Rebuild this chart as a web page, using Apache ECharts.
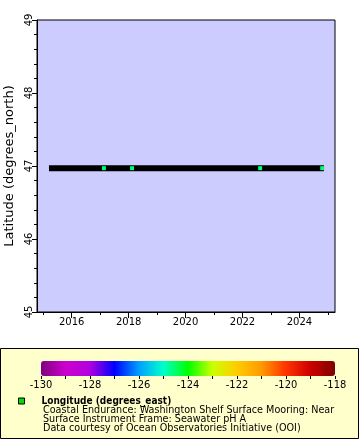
<!DOCTYPE html>
<html><head><meta charset="utf-8">
<script src="https://cdn.jsdelivr.net/npm/echarts@6/dist/echarts.min.js"></script>
<style>html,body{margin:0;padding:0;background:#fff}#c{width:360px;height:440px}</style>
</head><body><div id="c"></div>
<script>
// Track of the mooring (decimal year, latitude)
const trackTime = [2015.20, 2024.86];
const trackLat = [46.97, 46.97];
// Isolated points coloured by longitude
const pointTime = [2017.13, 2018.12, 2022.62, 2024.80];
const pointLat = [46.97, 46.97, 46.97, 46.97];
const pointLon = [-124.57, -124.57, -124.57, -124.57];
// Axis ticks
const xLabelYears = [2016, 2018, 2020, 2022, 2024];
const xMinorYears = [2015, 2017, 2019, 2021, 2023, 2025];
const colorStops = ['#800080','#cc00cc','#b000e0','#0000ff','#00a0ff','#00ffcc','#00ff00','#ccff00','#ffcc00','#ff9900','#ff3300','#cc0000','#800000'];
const legendName = 'Longitude (degrees_east)';
const legendLines = [
  'Coastal Endurance: Washington Shelf Surface Mooring: Near',
  'Surface Instrument Frame: Seawater pH A',
  'Data courtesy of Ocean Observatories Initiative (OOI)'
];

const F = 'DejaVu Sans';
const FC = '"DejaVu Sans Condensed", "DejaVu Sans", sans-serif';
const chart = echarts.init(document.getElementById('c'), null, {renderer: 'canvas'});
chart.setOption({
  animation: false,
  backgroundColor: '#fff',
  textStyle: {fontFamily: F},
  grid: [
    {left: 37, top: 20, width: 298, height: 292, show: true, backgroundColor: '#ccccff', borderColor: '#000', borderWidth: 1, outerBoundsMode: 'none', containLabel: false},
    {left: 41, top: 361, width: 294, height: 15, show: false, outerBoundsMode: 'none', containLabel: false}
  ],
  xAxis: [
    {gridIndex: 0, type: 'value', min: 2014.78, max: 2025.25,
     axisLine: {lineStyle: {color: '#000'}},
     axisTick: {customValues: xLabelYears, length: 6, lineStyle: {color: '#000'}},
     axisLabel: {customValues: xLabelYears, formatter: v => String(v), color: '#000', fontSize: 10, fontFamily: F, margin: 5},
     splitLine: {show: false}},
    {gridIndex: 0, type: 'value', min: 2014.78, max: 2025.25, position: 'bottom',
     axisLine: {show: false},
     axisTick: {customValues: xMinorYears, length: 3, lineStyle: {color: '#000'}},
     axisLabel: {show: false}, splitLine: {show: false}},
    {gridIndex: 1, type: 'value', min: -130, max: -118, interval: 2,
     axisLine: {show: false},
     axisTick: {length: 3, lineStyle: {color: '#000'}},
     minorTick: {show: true, splitNumber: 2, length: 3, lineStyle: {color: '#000'}},
     axisLabel: {color: '#000', fontSize: 11, fontFamily: FC, margin: 4},
     splitLine: {show: false}}
  ],
  yAxis: [
    {gridIndex: 0, type: 'value', min: 45, max: 49, interval: 1,
     axisLine: {lineStyle: {color: '#000'}},
     axisTick: {length: 5, lineStyle: {color: '#000'}},
     minorTick: {show: true, splitNumber: 5, length: 3, lineStyle: {color: '#000'}},
     axisLabel: {rotate: 90, color: '#000', fontSize: 10, fontFamily: F, margin: 3},
     splitLine: {show: false},
     name: 'Latitude (degrees_north)', nameLocation: 'middle', nameGap: 17,
     nameTextStyle: {color: '#000', fontSize: 13, fontFamily: F}},
    {gridIndex: 1, type: 'value', min: 0, max: 1, show: false}
  ],
  visualMap: {
    type: 'continuous', min: -130, max: -118, dimension: 2, seriesIndex: 1,
    orient: 'horizontal', left: 41, top: 361, itemWidth: 15, itemHeight: 294,
    padding: 0, calculable: false, realtime: false, text: null, showLabel: false,
    inRange: {color: colorStops}, hoverLink: false
  },
  legend: {
    left: 18, top: 396, padding: 0, itemWidth: 6, itemHeight: 6, itemGap: 0,
    icon: 'rect',
    textStyle: {color: '#000', fontWeight: 'bold', fontSize: 10, fontFamily: FC, padding: [0, 0, 0, 12]},
    data: [{name: legendName, itemStyle: {color: '#00dd00', borderColor: '#000', borderWidth: 1, opacity: 1}}]
  },
  graphic: [
    {type: 'rect', z: -10, shape: {x: 0.5, y: 348.5, width: 358, height: 90}, style: {fill: '#ffffcc', stroke: '#000', lineWidth: 1}},
    {type: 'text', left: 43, top: 405, style: {text: legendLines.join('\n'), font: '10.7px "DejaVu Sans Condensed", "DejaVu Sans"', fill: '#000', lineHeight: 9}}
  ],
  series: [
    {type: 'line', xAxisIndex: 0, yAxisIndex: 0, showSymbol: false, silent: true, z: 2,
     data: trackTime.map((t, i) => [t, trackLat[i]]),
     lineStyle: {color: '#000', width: 6, cap: 'butt'}},
    {type: 'scatter', name: legendName, xAxisIndex: 0, yAxisIndex: 0, symbol: 'rect', symbolSize: [4, 4], silent: true, z: 5,
     itemStyle: {color: '#00dd00', opacity: 1},
     data: pointTime.map((t, i) => [t, pointLat[i], pointLon[i]])}
  ]
});
</script></body></html>
